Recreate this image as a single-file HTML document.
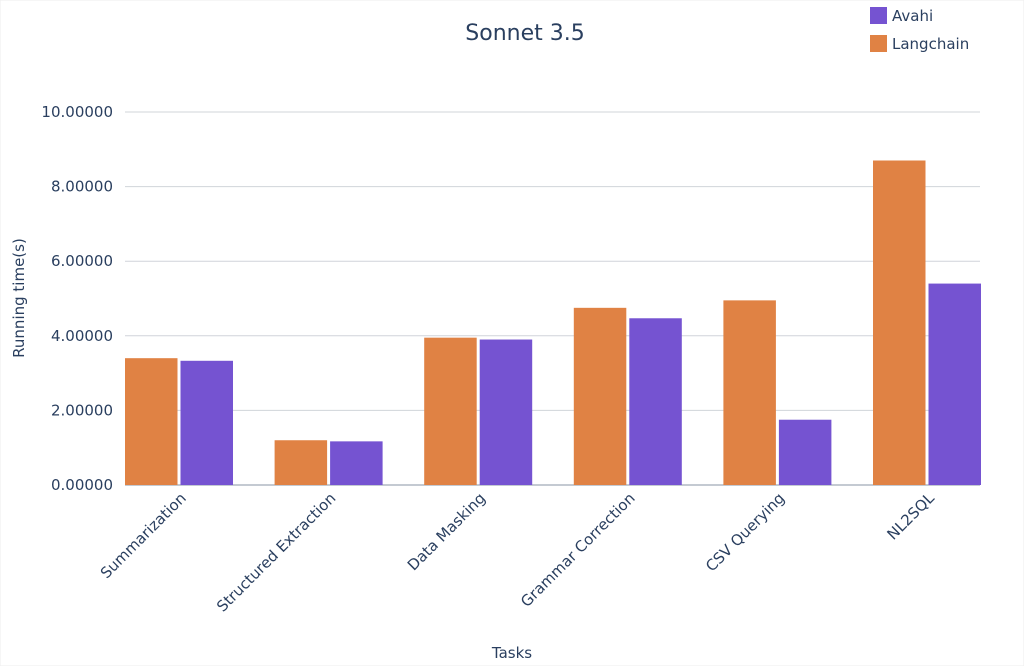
<!DOCTYPE html>
<html><head><meta charset="utf-8"><style>
body{margin:0;background:#fff;font-family:"Liberation Sans","DejaVu Sans",sans-serif;}
svg text{font-family:"DejaVu Sans","Liberation Sans",sans-serif;fill:#2a3f5f;}
</style></head><body>
<svg width="1024" height="666">
<rect x="0" y="0" width="1024" height="666" fill="#fff" stroke="#eee"/>
<text x="525" y="40" font-size="22" text-anchor="middle" fill="#1a1a3a">Sonnet 3.5</text>
<g id="grid"></g><g id="bars"></g><g id="xl"></g>
<text x="512" y="658" font-size="15" text-anchor="middle">Tasks</text>
<text transform="translate(24,298) rotate(-90)" font-size="15" text-anchor="middle">Running time(s)</text>
<rect x="870" y="7" width="17" height="17" fill="#7553d1"/>
<text x="892" y="21" font-size="15">Avahi</text>
<rect x="870" y="35" width="17" height="17" fill="#e08244"/>
<text x="892" y="49" font-size="15">Langchain</text>
</svg>
<script>
const categories=["Summarization","Structured Extraction","Data Masking","Grammar Correction","CSV Querying","NL2SQL"];
const langchain=[3.40,1.20,3.95,4.75,4.95,8.70];
const avahi=[3.33,1.17,3.90,4.47,1.75,5.40];
const yTicks=[0,2,4,6,8,10];
const ns="http://www.w3.org/2000/svg";
const x0=125,x1=980,y0=485,pxPerUnit=37.3,step=149.6,firstC=179,bw=52.5;
const yS=v=>y0-v*pxPerUnit;const xC=i=>firstC+i*step;
function mk(t,a,p){const e=document.createElementNS(ns,t);for(const k in a)e.setAttribute(k,a[k]);p.appendChild(e);return e;}
const g=document.getElementById('grid');
yTicks.forEach(v=>{
 const l=mk('line',{x1:x0,x2:x1,y1:yS(v),y2:yS(v),stroke:v==0?'#8a94a6':'#d0d4da','stroke-width':1},g);
 
 
 const t=mk('text',{x:x0-12,y:yS(v)+5,'font-size':15,'text-anchor':'end'},g);
 t.textContent=v.toFixed(5);
 
 
});
const b=document.getElementById('bars');
categories.forEach((c,i)=>{
 const r1=mk('rect',{x:xC(i)-bw-1.5,y:yS(langchain[i]),width:bw,height:langchain[i]*pxPerUnit,fill:'#e08244'},b);
 
 
 const r2=mk('rect',{x:xC(i)+1.5,y:yS(avahi[i]),width:bw,height:avahi[i]*pxPerUnit,fill:'#7553d1'},b);
 
 
 const t=mk('text',{transform:`translate(${xC(i)+8},${y0+14}) rotate(-45)`,'font-size':15,'text-anchor':'end'},document.getElementById('xl'));
 t.textContent=c;
 
 
});
</script>
</body></html>
